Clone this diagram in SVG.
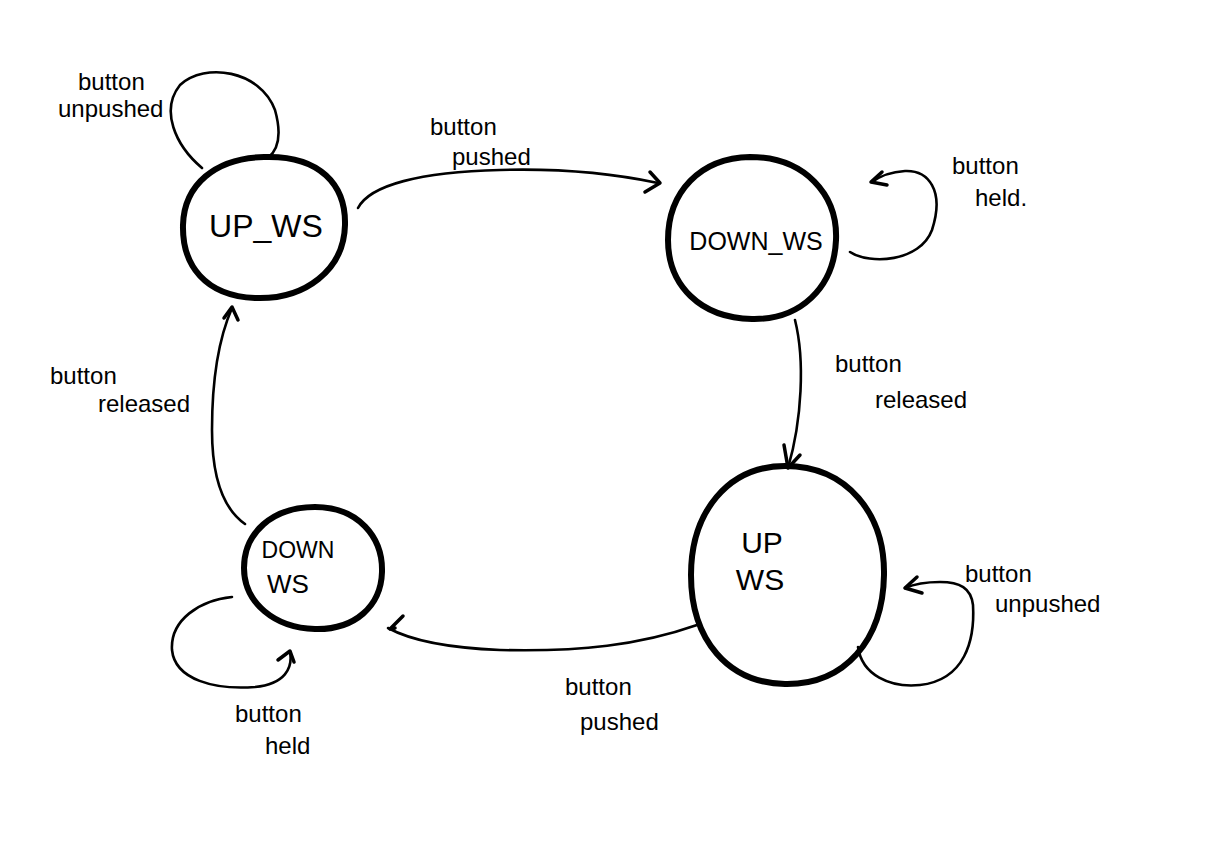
<svg xmlns="http://www.w3.org/2000/svg" width="1220" height="850" viewBox="0 0 1220 850">
<style>
.node{fill:none;stroke:#000;stroke-width:6;stroke-linecap:round}
.edge{fill:none;stroke:#000;stroke-width:2.6;stroke-linecap:round;stroke-linejoin:round}
.head{fill:none;stroke:#000;stroke-width:3.5;stroke-linecap:round;stroke-linejoin:round}
.lbl{font-family:"Liberation Sans",Arial,sans-serif;font-size:24px;fill:#000}
.nl{font-family:"Liberation Sans",Arial,sans-serif;fill:#000}
</style>
<rect width="1220" height="850" fill="#fff"/>
<g id="node-up-w">
<path class="node" d="M264,157 C320,155 346,185 345,225 C344,270 305,300 255,298 C205,296 182,265 183,225 C184,185 215,158 264,157 Z"/>
<text class="nl" x="266" y="237" font-size="32" text-anchor="middle">UP_WS</text>
</g>
<g id="node-down-w">
<path class="node" d="M750,157 C805,157 838,195 836,240 C834,288 800,320 752,319 C700,318 668,285 668,240 C668,192 700,158 750,157 Z"/>
<text class="nl" x="756" y="250" font-size="25" text-anchor="middle">DOWN_WS</text>
</g>
<g id="node-up">
<path class="node" d="M785,466 C848,466 885,515 884,575 C883,640 845,685 785,684 C728,683 691,640 691,575 C691,512 728,466 785,466 Z"/>
<text class="nl" x="762" y="553" font-size="30" text-anchor="middle">UP</text>
<text class="nl" x="760" y="590" font-size="30" text-anchor="middle">WS</text>
</g>
<g id="node-down">
<path class="node" d="M315,507 C358,507 383,537 382,572 C381,606 355,630 315,629 C275,628 244,603 244,568 C244,533 272,507 315,507 Z"/>
<text class="nl" x="298" y="558" font-size="23" text-anchor="middle">DOWN</text>
<text class="nl" x="288" y="593" font-size="26" text-anchor="middle">WS</text>
</g>
<g id="connectors">
<path class="edge" d="M202,168 C175,145 160,110 180,85 C205,62 260,70 275,110 C282,135 278,150 268,158"/>
<path class="edge" d="M358,208 C370,185 420,172 500,170 C570,168 620,175 658,183"/>
<path class="head" d="M650,172 L660,183 L645,192"/>
<path class="edge" d="M850,252 C870,265 920,262 932,230 C945,190 928,170 905,171 C890,172 880,176 872,182"/>
<path class="head" d="M882,172 L871,182 L887,185"/>
<path class="edge" d="M795,320 C805,360 802,420 788,468"/>
<path class="head" d="M784,445 L788,468 L800,455"/>
<path class="edge" d="M858,647 C862,675 890,688 920,685 C965,680 975,640 973,605 C971,588 960,582 940,582 C925,582 912,585 905,588"/>
<path class="head" d="M917,577 L905,588 L922,593"/>
<path class="edge" d="M697,625 C640,645 580,652 500,650 C450,648 410,640 388,628" stroke-width="3.5"/>
<path class="head" d="M403,616 L390,629 L395,628"/>
<path class="edge" d="M232,597 C200,600 170,620 172,650 C175,680 215,690 255,687 C285,684 293,668 290,652"/>
<path class="head" d="M278,660 L290,651 L294,662"/>
<path class="edge" d="M245,524 C225,510 212,480 212,430 C212,380 218,340 232,308"/>
<path class="head" d="M224,318 L232,307 L238,320"/>
</g>
<g id="labels">
<text class="lbl" x="78" y="90">button</text>
<text class="lbl" x="58" y="117">unpushed</text>
<text class="lbl" x="430" y="135">button</text>
<text class="lbl" x="452" y="165">pushed</text>
<text class="lbl" x="952" y="174">button</text>
<text class="lbl" x="975" y="206">held.</text>
<text class="lbl" x="835" y="372">button</text>
<text class="lbl" x="875" y="408">released</text>
<text class="lbl" x="965" y="582">button</text>
<text class="lbl" x="995" y="612">unpushed</text>
<text class="lbl" x="565" y="695">button</text>
<text class="lbl" x="580" y="730">pushed</text>
<text class="lbl" x="235" y="722">button</text>
<text class="lbl" x="265" y="754">held</text>
<text class="lbl" x="50" y="384">button</text>
<text class="lbl" x="98" y="412">released</text>
</g>
</svg>
